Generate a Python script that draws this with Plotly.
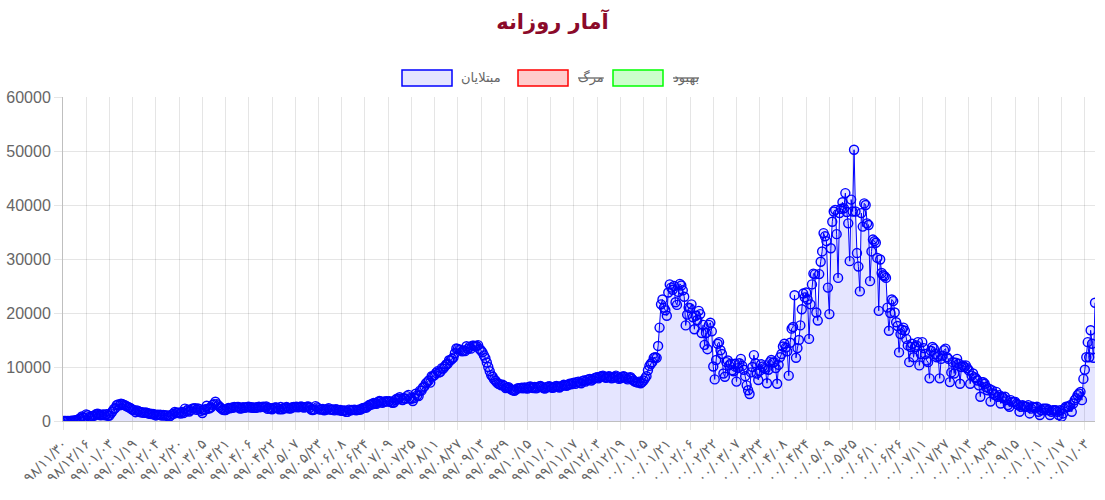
import plotly.graph_objs as go

# daily new cases, one value per day starting 98/11/30
feb_2020 = [2, 3, 13, 10, 15, 18, 34, 44, 106, 143, 205]
mar_2020 = [385, 523, 835, 586, 591, 1234, 1076, 743, 595, 881, 958, 1075, 1289, 1365, 1209, 1053,
            1178, 1192, 1046, 1237, 966, 1028, 1411, 1762, 2206, 2389, 2926, 3076, 2901, 3186, 3110]
apr_2020 = [2987, 2875, 2715, 2560, 2483, 2274, 2089, 1997, 1634, 1972, 1837, 1657, 1617, 1574, 1512,
            1606, 1499, 1374, 1343, 1294, 1297, 1194, 1030, 1168, 1134, 1153, 991, 1112, 1073, 993]
may_2020 = [1006, 802, 976, 1223, 1323, 1680, 1485, 1529, 1556, 1383, 1683, 1481, 2294, 1808, 2102, 1757,
            2011, 2294, 2346, 2392, 2080, 2311, 2183, 1869, 1490, 2023, 2180, 2819, 2282, 2364, 2516]
jun_2020 = [2979, 3117, 3574, 3134, 2886, 2596, 2364, 2095, 2011, 2043, 2238, 2410, 2369, 2472, 2449,
            2612, 2563, 2596, 2615, 2322, 2368, 2573, 2445, 2531, 2595, 2628, 2489, 2536, 2457, 2449]
jul_2020 = [2457, 2549, 2652, 2560, 2613, 2637, 2560, 2691, 2262, 2397, 2388, 2186, 2349, 2521, 2500, 2379,
            2166, 2625, 2166, 2414, 2336, 2621, 2434, 2316, 2333, 2560, 2589, 2598, 2667, 2549, 2621]
aug_2020 = [2685, 2598, 2489, 2574, 2634, 2697, 2450, 2125, 2020, 2133, 2751, 2521, 2345, 2112, 2166, 2216,
            1987, 2073, 2206, 2385, 2125, 2097, 2116, 1963, 2178, 2112, 1981, 2043, 1902, 1890, 1949]
sep_2020 = [1682, 1683, 2098, 1975, 2037, 2063, 2070, 1983, 2058, 2089, 2106, 2313, 2407, 2444, 2510,
            2705, 2970, 3049, 3097, 3341, 3249, 3204, 3521, 3712, 3612, 3362, 3570, 3601, 3677, 3582]
oct_2020 = [3677, 3521, 3362, 3420, 3902, 4151, 4019, 4392, 4142, 3875, 4206, 4108, 4612, 4830, 4213, 4103,
            3712, 4251, 5039, 4721, 4616, 5616, 5616, 6200, 6400, 6968, 7200, 7500, 7100, 8293, 8300]
nov_2020 = [8500, 8900, 9200, 8950, 9100, 9800, 9700, 10100, 10463, 10600, 11249, 11260, 11517, 11737, 12543,
            13421, 13352, 13223, 13164, 12897, 13053, 12931, 13843, 13321, 13721, 13402, 13961, 13922, 13889, 13881]
dec_2020 = [14051, 13341, 13056, 12721, 12151, 11651, 10827, 10000, 9221, 8500, 8201, 7704, 7450, 7100, 6900, 6800,
            6600, 6700, 6500, 6113, 6164, 6251, 6000, 5800, 5700, 5600, 5800, 6046, 6085, 6094, 6181]
jan_2021 = [6057, 6200, 6100, 6000, 6300, 6400, 6200, 6100, 6300, 6050, 6200, 6400, 6500, 6300, 6100, 6000,
            6200, 6350, 6450, 6300, 6150, 6200, 6400, 6500, 6350, 6200, 6400, 6550, 6700, 6600, 6500]
feb_2021 = [6700, 6900, 6800, 7000, 7100, 6900, 7200, 7300, 7100, 7000, 7400, 7500, 7300, 7600,
            7700, 7800, 7500, 7700, 7900, 8000, 8100, 7900, 8200, 8300, 8400, 8200, 8000, 8100]
mar_2021 = [8300, 8200, 7900, 8000, 8200, 8400, 8100, 7800, 7900, 8100, 8300, 8200, 7900, 7700, 8000, 8100,
            7800, 7500, 7300, 7200, 7100, 7300, 7000, 7200, 7500, 7900, 8300, 9400, 10200, 10600, 10900]
apr_2021 = [11700, 11800, 11700, 13900, 17300, 21600, 22500, 21000, 20500, 19500, 23800, 25300, 24700, 24300, 25000,
            22000, 21500, 23900, 25400, 25100, 24200, 23000, 17700, 19700, 21000, 20900, 21600, 19200, 17000, 19500]
may_2021 = [18700, 20400, 19800, 16300, 17800, 14100, 16300, 13300, 17800, 18200, 16600, 10100, 7700, 11300, 14300, 14600,
            13100, 12400, 8800, 8200, 10900, 11200, 10300, 10600, 9400, 9200, 10600, 7300, 9800, 10700, 11500]
jun_2021 = [10200, 9500, 8300, 6600, 5700, 5000, 9000, 10000, 12200, 10700, 8800, 7600, 9300, 10500, 10100,
            9800, 9600, 7000, 9500, 10900, 11300, 10800, 10900, 9800, 6900, 10400, 11800, 12400, 13800, 14300]
jul_2021 = [13600, 12900, 8400, 14500, 17100, 17400, 23300, 11700, 13500, 15000, 17700, 20700, 23600, 22900, 23800, 22500,
            15200, 21600, 25300, 27300, 27150, 20100, 18600, 27200, 29500, 31400, 34800, 34200, 33300, 24700, 19800]
aug_2021 = [32000, 36900, 38800, 39100, 34600, 26500, 38500, 39300, 40500, 39400, 42200, 38700, 36600, 29600, 41000, 38800,
            50228, 38800, 31100, 28600, 24000, 38500, 36000, 40300, 40000, 36600, 36300, 25900, 31400, 33600, 33300]
sep_2021 = [33000, 30200, 20400, 29900, 27400, 27000, 26800, 26500, 21000, 16700, 20000, 22500, 22200, 20100, 18300,
            17600, 12700, 16100, 16900, 17300, 16700, 15200, 14000, 10900, 13700, 14300, 11800, 13700, 14000, 14600]
oct_2021 = [10300, 12400, 14600, 13500, 12400, 11200, 10900, 7900, 13000, 13700, 13400, 12400, 11800, 12000, 7900, 11500,
            12100, 13100, 13400, 11800, 11500, 7200, 9000, 10900, 8800, 10800, 11500, 10600, 6900, 10000, 10300]
nov_2021 = [10000, 10300, 9800, 9400, 6900, 8400, 8800, 8100, 7900, 7500, 6600, 4500, 7200, 7200, 6900,
            6300, 5700, 6000, 3600, 5700, 5100, 4800, 5400, 4500, 4800, 3250, 4500, 4200, 4500, 3860]
dec_2021 = [2940, 2630, 3860, 3550, 3500, 3550, 3200, 2940, 1710, 2630, 2940, 2800, 2630, 2630, 2940, 1400,
            2300, 2630, 2500, 2500, 2630, 1710, 1100, 2000, 2300, 2300, 2300, 2300, 2000, 1100, 1700]
jan_2022 = [2000, 2000, 2000, 1700, 1100, 2000, 800, 1400, 2300, 2630, 2630, 2630, 2940, 1700, 3250,
            3860, 4200, 4800, 5100, 5400, 3860, 7800, 9500, 11800, 14600, 11800, 16800, 14300, 11700, 21900]

cases = (feb_2020 + mar_2020 + apr_2020 + may_2020 + jun_2020 + jul_2020 + aug_2020 + sep_2020 + oct_2020
         + nov_2020 + dec_2020 + jan_2021 + feb_2021 + mar_2021 + apr_2021 + may_2021 + jun_2021 + jul_2021
         + aug_2021 + sep_2021 + oct_2021 + nov_2021 + dec_2021 + jan_2022)
days = list(range(len(cases)))

# shown date labels (every 16th day)
tick_labels = ['98/11/30', '98/12/16', '99/01/03', '99/01/19', '99/02/04', '99/02/20', '99/03/05', '99/03/21',
               '99/04/06', '99/04/22', '99/05/07', '99/05/23', '99/06/08', '99/06/24', '99/07/09', '99/07/25',
               '99/08/11', '99/08/27', '99/09/13', '99/09/29', '99/10/15', '99/11/01', '99/11/17', '99/12/03',
               '99/12/19', '00/01/05', '00/01/21', '00/02/06', '00/02/22', '00/03/07', '00/03/23', '00/04/08',
               '00/04/24', '00/05/09', '00/05/25', '00/06/10', '00/06/26', '00/07/11', '00/07/27', '00/08/13',
               '00/08/29', '00/09/15', '00/10/01', '00/10/17', '00/11/03']
persian_digits = str.maketrans('0123456789', '۰۱۲۳۴۵۶۷۸۹')
tick_text = [t.translate(persian_digits) for t in tick_labels]
tick_vals = [i * 16 for i in range(len(tick_labels))]

legend_names = ['مبتلایان', '<s>مرگ</s>', '<s>بهبود</s>']
legend_fill = ['rgba(0,0,255,0.1)', 'rgba(255,0,0,0.2)', 'rgba(0,255,0,0.2)']
legend_line = ['blue', 'red', 'lime']

fig = go.Figure()
fig.add_trace(go.Scatter(x=days, y=cases, mode='lines+markers', name='مبتلایان',
                         line=dict(color='blue', width=1),
                         marker=dict(size=9, color='rgba(0,0,255,0.1)', line=dict(color='blue', width=1.4)),
                         fill='tozeroy', fillcolor='rgba(0,0,255,0.1)', showlegend=False))

# plot area in pixels: x 63..1095, y 97..421
def px(x):
    return (x - 63) / 1032.0

def py(y):
    return (421 - y) / 324.0

box_left = [402, 518, 613]
text_left = [459, 576, 671]
shapes = []
annotations = []
for i in range(3):
    shapes.append(dict(type='rect', xref='paper', yref='paper',
                       x0=px(box_left[i]), x1=px(box_left[i] + 50), y0=py(86), y1=py(70),
                       fillcolor=legend_fill[i], line=dict(color=legend_line[i], width=1.5)))
    annotations.append(dict(xref='paper', yref='paper', x=px(text_left[i]), y=py(78),
                            xanchor='left', yanchor='middle', showarrow=False, text=legend_names[i],
                            font=dict(family='DejaVu Sans', size=13, color='#666')))

fig.update_layout(
    width=1105, height=500,
    margin=dict(l=63, r=10, t=97, b=79, autoexpand=False),
    paper_bgcolor='white', plot_bgcolor='white',
    title=dict(text='<b>آمار روزانه</b>', x=0.5, xref='container', y=1 - 22 / 500, yref='container',
               xanchor='center', yanchor='middle', automargin=False,
               font=dict(family='DejaVu Sans', size=21, color='#8b0a2a')),
    shapes=shapes, annotations=annotations,
    showlegend=False,
    xaxis=dict(range=[0, len(cases) - 1], tickmode='array', tickvals=tick_vals, ticktext=tick_text,
               tickangle=-45, tickfont=dict(family='DejaVu Sans', size=14, color='#666'), automargin=False,
               showgrid=True, gridcolor='rgba(0,0,0,0.1)', zeroline=False,
               showline=True, linecolor='rgba(0,0,0,0.25)', linewidth=1,
               ticks='outside', ticklen=8, tickcolor='rgba(0,0,0,0.1)'),
    yaxis=dict(range=[0, 60000], dtick=10000, tickformat='d', automargin=False,
               tickfont=dict(family='Liberation Sans', size=16, color='#666'),
               showgrid=True, gridcolor='rgba(0,0,0,0.1)', zeroline=False,
               showline=True, linecolor='rgba(0,0,0,0.25)', linewidth=1,
               ticks='outside', ticklen=8, tickcolor='rgba(0,0,0,0.1)'),
)

# drop the default page margin so the figure sits at the window corner
fig.write_html("out.html", config={'displayModeBar': False},
               post_script="document.body.style.margin = '0';")
